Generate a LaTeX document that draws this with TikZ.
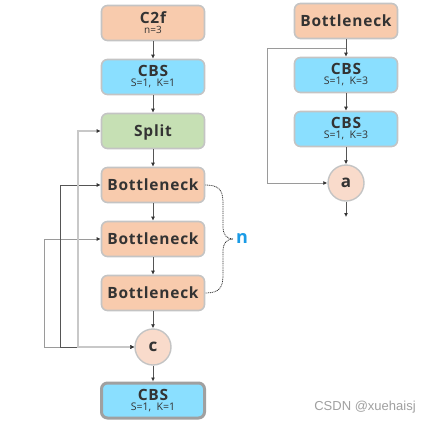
\documentclass[tikz,border=0pt]{standalone}
\usepackage{fontspec}
\setmainfont{Open Sans}
\newfontfamily\ttlfont[LetterSpace=5]{Open Sans}
\newfontfamily\wmfont{Liberation Sans}
\usetikzlibrary{arrows.meta,calc}
\newcommand\myttlf{\ttlfont\bfseries\fontsize{15.5}{15.5}\selectfont}
\newcommand\mysubf{\fontsize{10.5}{10}\selectfont}
\definecolor{orng}{HTML}{F8CBAD}
\definecolor{skyb}{HTML}{8ADFFF}
\definecolor{grn}{HTML}{C6E0B4}
\definecolor{circf}{HTML}{F9DBCB}
\definecolor{bord}{HTML}{C4C4C4}
\definecolor{bordd}{HTML}{A0A0A0}
\definecolor{txt}{HTML}{333333}
\definecolor{nblue}{HTML}{1A9BE6}
\definecolor{ln}{HTML}{555555}
\definecolor{lgray}{HTML}{C8C8C8}
\definecolor{mgray}{HTML}{9A9A9A}
\definecolor{wm}{HTML}{A0A0A0}
\begin{document}
\begin{tikzpicture}[x=1pt,y=-1pt,
  blk/.style={draw=bord,line width=1.6pt,rounded corners=6pt,minimum width=103pt,minimum height=35pt,inner sep=0pt,text=txt,font=\myttlf,text depth=0pt},
  blk2/.style={draw=bord,line width=1.6pt,rounded corners=6pt,minimum width=103pt,minimum height=35pt,inner sep=0pt,text=txt,font=\mysubf,align=center},
  circ/.style={circle,draw=bord,line width=1.4pt,fill=circf,minimum size=36pt,inner sep=0pt,text=txt,font=\bfseries\fontsize{17}{17}\selectfont},
  tip/.style={-{Latex[length=4pt,width=4pt,color=txt]}},
  both/.style={{Latex[length=4pt,width=4pt,color=txt]}-{Latex[length=4pt,width=4pt,color=txt]}},
  flow/.style={draw=ln,line width=0.8pt,tip},
  brc/.style={draw=txt,line width=0.75pt,dash pattern=on 1pt off 0.8pt}]
\useasboundingbox (0,0) rectangle (431,424);
\fill[white] (0,0) rectangle (431,424);

% left column
\node[blk2,fill=orng] (c2f) at (153,23) {{\myttlf C2f}\\{\fontsize{10}{10}\selectfont n=3}};
\node[blk2,fill=skyb] (cbs1) at (153,77) {{\myttlf CBS}\\S=1,\ \ K=1};
\node[blk,fill=grn] (split) at (153,131) {Split};
\node[blk,fill=orng] (b1) at (153,185) {Bottleneck};
\node[blk,fill=orng] (b2) at (153,239) {Bottleneck};
\node[blk,fill=orng] (b3) at (153,293) {Bottleneck};
\node[circ] (c) at (153,347) {c};
\node[blk2,fill=skyb,draw=bordd,line width=3pt] (cbs2) at (153,400.5) {{\myttlf CBS}\\S=1,\ \ K=1};

\draw[flow] (c2f) -- (cbs1);
\draw[flow] (cbs1) -- (split);
\draw[flow] (split) -- (b1);
\draw[flow] (b1) -- (b2);
\draw[flow] (b2) -- (b3);
\draw[flow] (b3) -- (c);
\draw[flow] (c) -- (cbs2);

% skip lines
\coordinate (sC) at (44,347);
\coordinate (sB) at (60,347);
\coordinate (sA) at (78,347);
\draw[draw=mgray,line width=0.8pt,both] (b2.west) -| (sC) -- (c.west);
\draw[draw=ln,line width=0.8pt,both] (b1.west) -| (sB) -- (c.west);
\draw[draw=lgray,line width=1.8pt,both] (split.west) -| (sA) -- (c.west);

% brace
\node[text=nblue,font=\bfseries\fontsize{18}{18}\selectfont,inner sep=0pt] (n) at (242,238) {n};
\coordinate (nt) at (233,239);
\draw[brc] (b1.east) .. controls (219,185) and (223,190) .. (223,203) -- (223,227) .. controls (223,235) and (227,239) .. (nt)
  .. controls (227,239) and (223,243) .. (223,251) -- (223,275) .. controls (223,288) and (219,293) .. (b3.east);

% right column
\node[blk,fill=orng] (r0) at (346,21) {Bottleneck};
\node[blk2,fill=skyb] (ra) at (346,75) {{\myttlf CBS}\\S=1,\ \ K=3};
\node[blk2,fill=skyb] (rb) at (346,129) {{\myttlf CBS}\\S=1,\ \ K=3};
\node[circ] (a) at (346,183) {a};
\coordinate (out) at (346,217);

\draw[flow] (r0) -- (ra);
\draw[flow] (ra) -- (rb);
\draw[flow] (rb) -- (a);
\draw[flow] (a) -- (out);
\coordinate (rj) at ($(r0.south)!0.5!(ra.north)$);
\coordinate (rl) at (267,183);
\draw[draw=mgray,line width=0.8pt,tip] (rj) -| (rl) -- (a.west);

% watermark
\node[font=\wmfont\fontsize{13}{13}\selectfont,text=wm,inner sep=0pt] (wmk) at (365,407) {CSDN @xuehaisj};
\end{tikzpicture}
\end{document}
